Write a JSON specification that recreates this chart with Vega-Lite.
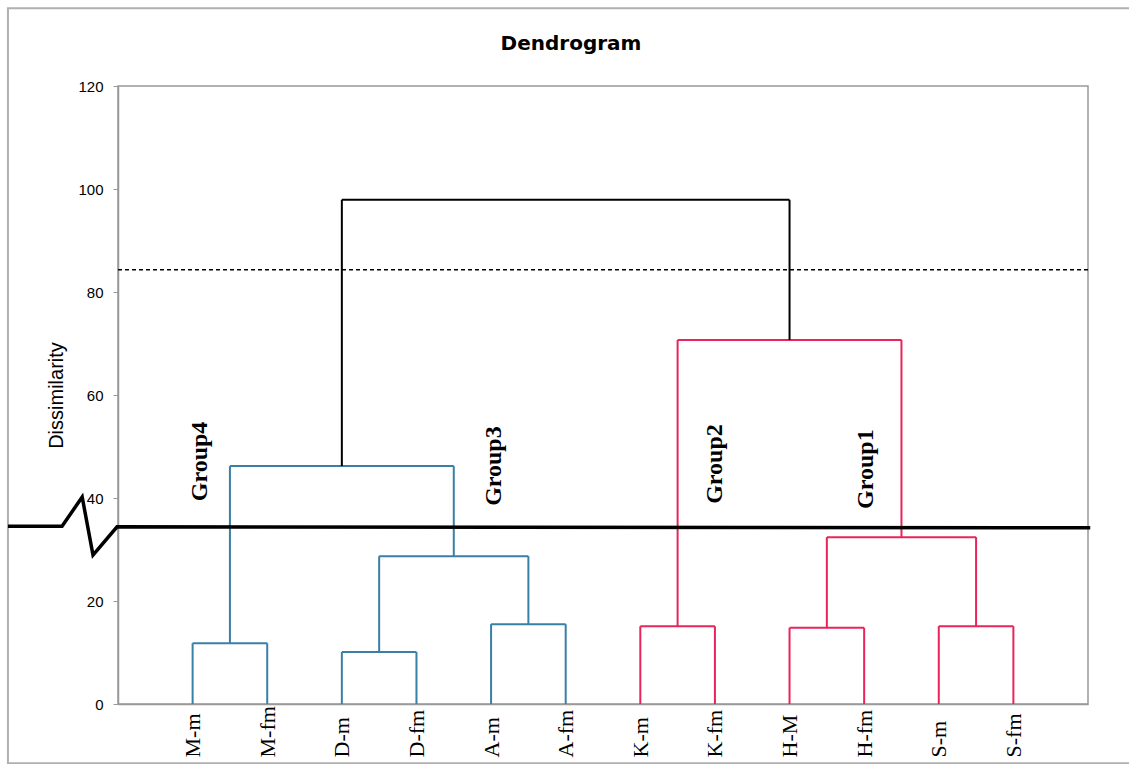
{
  "$schema": "https://vega.github.io/schema/vega-lite/v6.json",
  "width": 970,
  "height": 618,
  "autosize": "none",
  "padding": {"left": 118, "top": 86, "right": 41, "bottom": 60},
  "background": "white",
  "title": {"text": "Dendrogram", "font": "DejaVu Sans", "fontSize": 20, "fontWeight": "bold", "color": "#000000", "baseline": "alphabetic", "offset": -63, "frame": "group", "anchor": "middle", "dx": -32},
  "config": {"view": {"stroke": "#999999", "strokeWidth": 1.5}},
  "datasets": {
    "segments": [
      {"x": 1, "y": 0, "x2": 1, "y2": 11.8, "grp": "blue"},
      {"x": 2, "y": 0, "x2": 2, "y2": 11.8, "grp": "blue"},
      {"x": 1, "y": 11.8, "x2": 2, "y2": 11.8, "grp": "blue"},
      {"x": 3, "y": 0, "x2": 3, "y2": 10.1, "grp": "blue"},
      {"x": 4, "y": 0, "x2": 4, "y2": 10.1, "grp": "blue"},
      {"x": 3, "y": 10.1, "x2": 4, "y2": 10.1, "grp": "blue"},
      {"x": 5, "y": 0, "x2": 5, "y2": 15.5, "grp": "blue"},
      {"x": 6, "y": 0, "x2": 6, "y2": 15.5, "grp": "blue"},
      {"x": 5, "y": 15.5, "x2": 6, "y2": 15.5, "grp": "blue"},
      {"x": 3.5, "y": 10.1, "x2": 3.5, "y2": 28.7, "grp": "blue"},
      {"x": 5.5, "y": 15.5, "x2": 5.5, "y2": 28.7, "grp": "blue"},
      {"x": 3.5, "y": 28.7, "x2": 5.5, "y2": 28.7, "grp": "blue"},
      {"x": 1.5, "y": 11.8, "x2": 1.5, "y2": 46.2, "grp": "blue"},
      {"x": 4.5, "y": 28.7, "x2": 4.5, "y2": 46.2, "grp": "blue"},
      {"x": 1.5, "y": 46.2, "x2": 4.5, "y2": 46.2, "grp": "blue"},
      {"x": 7, "y": 0, "x2": 7, "y2": 15.1, "grp": "red"},
      {"x": 8, "y": 0, "x2": 8, "y2": 15.1, "grp": "red"},
      {"x": 7, "y": 15.1, "x2": 8, "y2": 15.1, "grp": "red"},
      {"x": 9, "y": 0, "x2": 9, "y2": 14.8, "grp": "red"},
      {"x": 10, "y": 0, "x2": 10, "y2": 14.8, "grp": "red"},
      {"x": 9, "y": 14.8, "x2": 10, "y2": 14.8, "grp": "red"},
      {"x": 11, "y": 0, "x2": 11, "y2": 15.1, "grp": "red"},
      {"x": 12, "y": 0, "x2": 12, "y2": 15.1, "grp": "red"},
      {"x": 11, "y": 15.1, "x2": 12, "y2": 15.1, "grp": "red"},
      {"x": 9.5, "y": 14.8, "x2": 9.5, "y2": 32.4, "grp": "red"},
      {"x": 11.5, "y": 15.1, "x2": 11.5, "y2": 32.4, "grp": "red"},
      {"x": 9.5, "y": 32.4, "x2": 11.5, "y2": 32.4, "grp": "red"},
      {"x": 7.5, "y": 15.1, "x2": 7.5, "y2": 70.7, "grp": "red"},
      {"x": 10.5, "y": 32.4, "x2": 10.5, "y2": 70.7, "grp": "red"},
      {"x": 7.5, "y": 70.7, "x2": 10.5, "y2": 70.7, "grp": "red"},
      {"x": 3, "y": 46.2, "x2": 3, "y2": 97.9, "grp": "black"},
      {"x": 9, "y": 70.7, "x2": 9, "y2": 97.9, "grp": "black"},
      {"x": 3, "y": 97.9, "x2": 9, "y2": 97.9, "grp": "black"}
    ],
    "cutline": [
      {"x": -1.475, "y": 34.5, "k": 1},
      {"x": -0.75, "y": 34.5, "k": 2},
      {"x": -0.48, "y": 40.2, "k": 3},
      {"x": -0.335, "y": 28.9, "k": 4},
      {"x": -0.013, "y": 34.4, "k": 5},
      {"x": 13.03, "y": 34.2, "k": 6}
    ],
    "threshold": [{"y": 84.3}],
    "groups": [
      {"label": "Group4", "x": 1.1, "y": 47.1},
      {"label": "Group3", "x": 5.04, "y": 46.2},
      {"label": "Group2", "x": 8.0, "y": 46.6},
      {"label": "Group1", "x": 10.03, "y": 45.6}
    ],
    "frame": [{"x": -1.475, "x2": 14.5, "y": -11.5, "y2": 135.1}]
  },
  "layer": [
    {
      "data": {"name": "frame"},
      "mark": {"type": "rect", "fill": null, "stroke": "#b0b0b0", "strokeWidth": 2, "clip": false},
      "encoding": {
        "x": {"field": "x", "type": "quantitative", "scale": {"domain": [0, 13], "nice": false, "zero": false}},
        "x2": {"field": "x2"},
        "y": {"field": "y", "type": "quantitative", "scale": {"domain": [0, 120], "nice": false}},
        "y2": {"field": "y2"}
      }
    },
    {
      "data": {"name": "segments"},
      "mark": {"type": "rule", "strokeWidth": 2},
      "encoding": {
        "x": {"field": "x", "type": "quantitative", "scale": {"domain": [0, 13], "nice": false, "zero": false},
          "axis": {"values": [1, 2, 3, 4, 5, 6, 7, 8, 9, 10, 11, 12], "title": null, "grid": false, "ticks": false, "tickSize": 0, "domainColor": "#999999", "domainWidth": 1.5,
            "labelExpr": "['', 'M-m', 'M-fm', 'D-m', 'D-fm', 'A-m', 'A-fm', 'K-m', 'K-fm', 'H-M', 'H-fm', 'S-m', 'S-fm'][datum.value]",
            "labelAngle": 270, "labelAlign": "left", "labelBaseline": "middle", "labelFont": "Liberation Serif", "labelFontSize": 22, "labelColor": "#000000", "labelPadding": 53, "labelOverlap": false}},
        "x2": {"field": "x2"},
        "y": {"field": "y", "type": "quantitative", "scale": {"domain": [0, 120], "nice": false},
          "axis": {"values": [0, 20, 40, 60, 80, 100, 120], "title": "Dissimilarity", "grid": false, "tickSize": 5, "tickColor": "#999999", "domainColor": "#999999", "domainWidth": 1.5,
            "labelFont": "Liberation Sans", "labelFontSize": 15, "labelColor": "#000000", "labelPadding": 10,
            "titleFont": "Liberation Sans", "titleFontSize": 20, "titleFontWeight": "normal", "titleColor": "#000000", "titlePadding": 11}},
        "y2": {"field": "y2"},
        "color": {"field": "grp", "type": "nominal", "scale": {"domain": ["blue", "red", "black"], "range": ["#3a7fa6", "#e8245a", "#000000"]}, "legend": null}
      }
    },
    {
      "data": {"name": "threshold"},
      "mark": {"type": "rule", "strokeDash": [4, 3], "strokeWidth": 1.5, "color": "#000000"},
      "encoding": {
        "y": {"field": "y", "type": "quantitative"}
      }
    },
    {
      "data": {"name": "cutline"},
      "mark": {"type": "line", "strokeWidth": 3.5, "color": "#000000", "clip": false},
      "encoding": {
        "x": {"field": "x", "type": "quantitative"},
        "y": {"field": "y", "type": "quantitative"},
        "order": {"field": "k", "type": "quantitative"}
      }
    },
    {
      "data": {"name": "groups"},
      "mark": {"type": "text", "angle": 270, "align": "center", "baseline": "middle", "font": "Liberation Serif", "fontSize": 24, "fontWeight": "bold", "color": "#000000"},
      "encoding": {
        "x": {"field": "x", "type": "quantitative"},
        "y": {"field": "y", "type": "quantitative"},
        "text": {"field": "label"}
      }
    }
  ]
}
